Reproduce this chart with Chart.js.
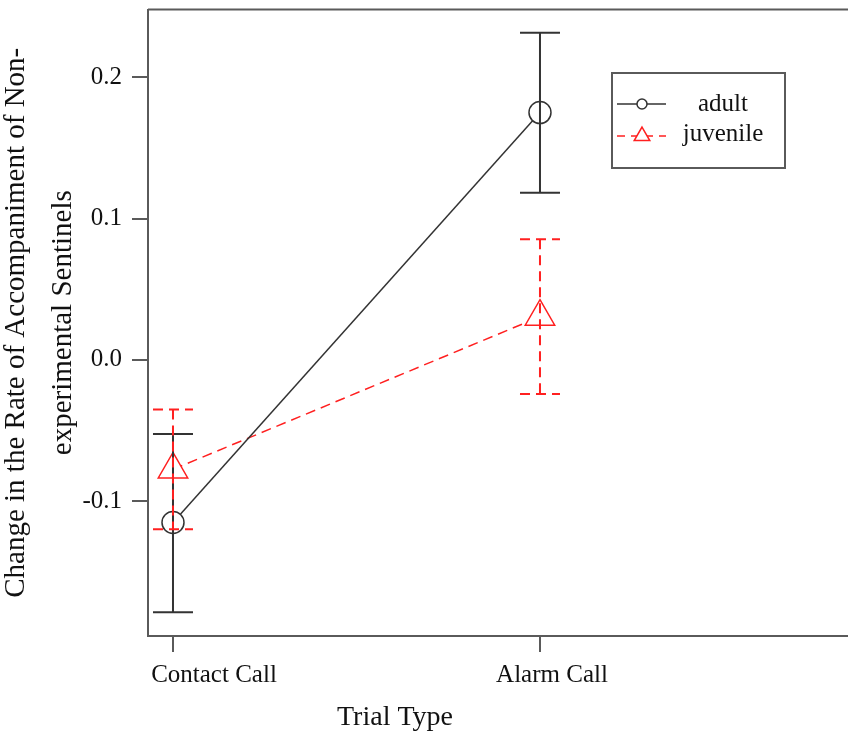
<!DOCTYPE html>
<html>
<head>
<meta charset="utf-8">
<script src="https://cdn.jsdelivr.net/npm/chart.js@4.4.1/dist/chart.umd.min.js"></script>
<style>
  html, body { margin: 0; padding: 0; background: #ffffff; overflow: hidden; }
  #wrap { width: 848px; height: 735px; }
</style>
</head>
<body>
<div id="wrap"><canvas id="c" width="848" height="735"></canvas></div>
<script>
// ---- data ----
const categories = ["Contact Call", "Alarm Call"];
const seriesNames = ["adult", "juvenile"];
const adultMean = [-0.1152, 0.1751];
const adultLow  = [-0.1788, 0.1183];
const adultHigh = [-0.0526, 0.2317];
const juvMean = [-0.0776, 0.0305];
const juvLow  = [-0.1200, -0.0242];
const juvHigh = [-0.0351, 0.0853];
const yTickValues = [-0.1, 0.0, 0.1, 0.2];
const yTickLabels = ["-0.1", "0.0", "0.1", "0.2"];
const xTitle = "Trial Type";
const yTitle = ["Change in the Rate of Accompaniment of Non-", "experimental Sentinels"];

const FONT = "'Liberation Serif', 'Times New Roman', serif";
const TEXT = "#111111";
const AXIS = "#5a5a5a";
const BLACK = "#333333";
const RED = "#ff2020";

function pts(arr) { return arr.map((v, i) => ({ x: i + 1, y: v })); }

const errorBarPlugin = {
  id: 'errorBars',
  afterDatasetsDraw(chart) {
    const ctx = chart.ctx;
    const xs = chart.scales.x, ys = chart.scales.y;
    chart.data.datasets.forEach((ds) => {
      ctx.save();
      ctx.strokeStyle = ds.borderColor;
      ctx.lineWidth = 2;
      ctx.setLineDash(ds.borderDash || []);
      ds.errLow.forEach((lo, i) => {
        const hi = ds.errHigh[i];
        const x = xs.getPixelForValue(i + 1);
        const yl = ys.getPixelForValue(lo);
        const yh = ys.getPixelForValue(hi);
        ctx.beginPath();
        ctx.moveTo(x, yh); ctx.lineTo(x, yl);
        ctx.moveTo(x - 20, yh); ctx.lineTo(x + 20, yh);
        ctx.moveTo(x - 20, yl); ctx.lineTo(x + 20, yl);
        ctx.stroke();
      });
      ctx.restore();
    });
  }
};

const decorPlugin = {
  id: 'decor',
  afterDraw(chart) {
    const ctx = chart.ctx;
    const a = chart.chartArea;
    const xs = chart.scales.x;
    ctx.save();
    // top frame line
    ctx.strokeStyle = AXIS;
    ctx.lineWidth = 2;
    ctx.beginPath();
    ctx.moveTo(a.left, a.top); ctx.lineTo(a.right, a.top);
    ctx.stroke();

    // category labels
    ctx.fillStyle = TEXT;
    ctx.font = "25px " + FONT;
    ctx.textAlign = 'center';
    ctx.textBaseline = 'alphabetic';
    const labelShift = [41, 12];
    categories.forEach((c, i) => {
      ctx.fillText(c, xs.getPixelForValue(i + 1) + labelShift[i], 682);
    });
    // x title
    ctx.font = "28px " + FONT;
    ctx.fillText(xTitle, 395, 725);

    // legend
    const lx = 612, ly = 73, lw = 173, lh = 95;
    ctx.fillStyle = '#ffffff';
    ctx.fillRect(lx, ly, lw, lh);
    ctx.strokeStyle = AXIS;
    ctx.lineWidth = 2;
    ctx.setLineDash([]);
    ctx.strokeRect(lx, ly, lw, lh);
    const rowsY = [104, 136];
    chart.data.datasets.forEach((ds, k) => {
      const y = rowsY[k];
      ctx.strokeStyle = ds.borderColor;
      ctx.lineWidth = 1.5;
      ctx.setLineDash(ds.borderDash ? [8, 6] : []);
      ctx.beginPath();
      ctx.moveTo(617, y); ctx.lineTo(666, y);
      ctx.stroke();
      ctx.setLineDash([]);
      ctx.fillStyle = '#ffffff';
      ctx.beginPath();
      if (ds.pointStyle === 'circle') {
        ctx.arc(642, y, 5, 0, Math.PI * 2);
      } else {
        const r = 9;
        ctx.moveTo(642, y - r);
        ctx.lineTo(642 + r * Math.sin(2 * Math.PI / 3), y - r * Math.cos(2 * Math.PI / 3));
        ctx.lineTo(642 + r * Math.sin(4 * Math.PI / 3), y - r * Math.cos(4 * Math.PI / 3));
        ctx.closePath();
      }
      ctx.fill();
      ctx.stroke();
      ctx.fillStyle = TEXT;
      ctx.font = "25px " + FONT;
      ctx.textAlign = 'center';
      ctx.fillText(ds.label, 723, k === 0 ? 111 : 141);
    });
    ctx.restore();
  }
};

new Chart(document.getElementById('c'), {
  type: 'line',
  data: {
    datasets: [
      {
        label: seriesNames[0],
        data: pts(adultMean),
        errLow: adultLow, errHigh: adultHigh,
        borderColor: BLACK,
        borderWidth: 1.5,
        pointStyle: 'circle',
        pointRadius: 11,
        pointBorderWidth: 1.5,
        pointBackgroundColor: '#ffffff',
        pointBorderColor: BLACK,
        fill: false,
        tension: 0
      },
      {
        label: seriesNames[1],
        data: pts(juvMean),
        errLow: juvLow, errHigh: juvHigh,
        borderColor: RED,
        borderWidth: 1.5,
        borderDash: [10, 6],
        pointStyle: 'triangle',
        pointRadius: 17,
        pointBorderWidth: 1.5,
        pointBackgroundColor: '#ffffff',
        pointBorderColor: RED,
        fill: false,
        tension: 0
      }
    ]
  },
  options: {
    responsive: false,
    animation: false,
    events: [],
    layout: { autoPadding: false, padding: { top: 9.5, right: 0, bottom: 0, left: 0 } },
    plugins: { legend: { display: false }, tooltip: { enabled: false } },
    scales: {
      x: {
        type: 'linear',
        min: 0.9319,
        max: 2.8393,
        afterBuildTicks: (s) => { s.ticks = categories.map((c, i) => ({ value: i + 1 })); },
        afterFit: (s) => { s.height = 99; s.paddingLeft = 0; s.paddingRight = 0; },
        ticks: { display: false },
        grid: { drawOnChartArea: false, drawTicks: true, tickLength: 16, color: AXIS, lineWidth: 2 },
        border: { display: true, color: AXIS, width: 2 }
      },
      y: {
        type: 'linear',
        min: -0.1956,
        max: 0.2481,
        afterBuildTicks: (s) => { s.ticks = yTickValues.map(v => ({ value: v })); },
        afterFit: (s) => { s.width = 148; s.paddingTop = 0; s.paddingBottom = 0; },
        ticks: {
          color: TEXT,
          font: { family: FONT, size: 25 },
          padding: 10,
          callback: (v) => { const i = yTickValues.findIndex(t => Math.abs(t - v) < 1e-9); return i >= 0 ? yTickLabels[i] : ''; }
        },
        grid: { drawOnChartArea: false, drawTicks: true, tickLength: 16, color: AXIS, lineWidth: 2 },
        border: { display: true, color: AXIS, width: 2 },
        title: {
          display: true,
          text: yTitle,
          color: TEXT,
          font: { family: FONT, size: 29, lineHeight: 1.65 },
          padding: { top: -8, bottom: 0 }
        }
      }
    }
  },
  plugins: [errorBarPlugin, decorPlugin]
});
</script>
</body>
</html>
